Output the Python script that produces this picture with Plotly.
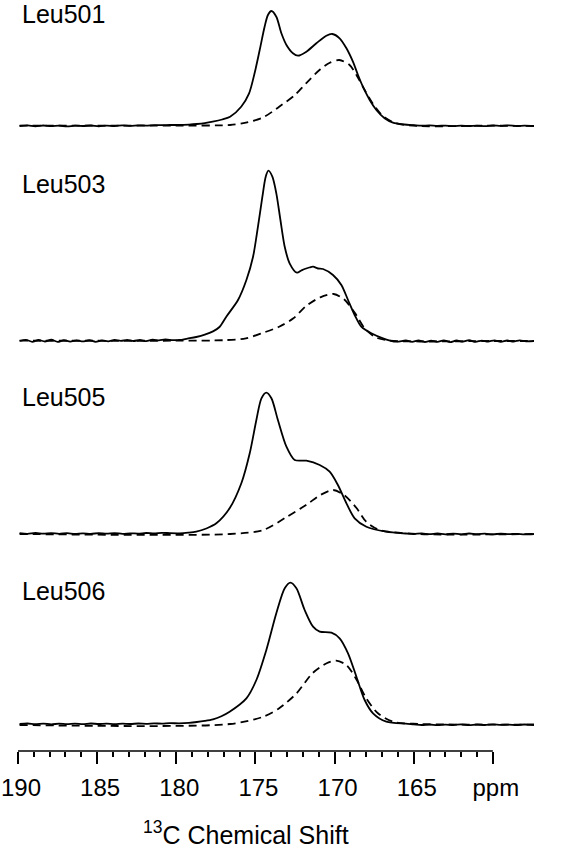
import plotly.graph_objects as go

# ---------------- data (intensity in arbitrary units) -------------
labels = ["Leu501", "Leu503", "Leu505", "Leu506"]
offsets = [625, 410, 217, 27]          # vertical stacking offsets
label_pos = [737, 567, 354, 160]       # label heights (same units)

left_ppm_a = [189.9, 189.4, 188.9, 188.4, 187.9, 187.4, 186.9, 186.4, 185.9, 185.4, 184.9,
              184.4, 183.9, 183.4, 182.9, 182.4, 181.9, 181.4, 180.9, 180.4, 179.8]
left_ppm_b = [189.9, 189.5, 189.1, 188.7, 188.3, 187.9, 187.5, 187.1, 186.7, 186.3, 185.9,
              185.5, 185.1, 184.7, 184.3, 183.9, 183.5, 183.1, 182.7, 182.3, 181.9, 181.5,
              181.1, 180.7, 180.2, 179.8]

# Leu501 experimental
leu501_ppm = left_ppm_a + [179.2, 178.7, 178.2, 177.7, 177.1, 176.6, 175.9, 175.4, 175.05,
                           174.73, 174.42, 174.21, 173.99, 173.68, 173.36, 173.04, 172.63,
                           172.31, 171.78, 171.15, 170.52, 170.14, 169.68, 169.25, 168.84,
                           168.52, 168.21, 167.78, 167.36, 166.84, 166.31, 165.6, 165.0,
                           164.5, 164.0, 163.5, 163.0, 162.5, 162.0, 161.5, 161.0, 160.5,
                           160.0, 159.5, 159.0, 158.5, 158.0, 157.4]
leu501_exp = [0, 0.6, -0.3, 0.5, -0.2, 0.4, -0.4, 0.3, 0, 0.5, -0.3, 0.4, 0, 0.6, 0.1, 0.7,
              0.4, 0.9, 0.8, 1.0, 1.0,
              1.4, 2.0, 2.9, 4.3, 6.5, 9.3, 19.3, 32.7, 53, 76, 99.3, 111, 115, 109.3, 92.7,
              81, 72.7, 70.3, 74.3, 82.7, 90.3, 92, 87.7, 77.7, 64.3, 51, 39.3, 26, 16, 7.7,
              3.3, 1.5, 0.8, 0.3, 0.6, 0.1, 0.4, -0.2, 0.3, 0, 0.4, -0.1, 0.5, 0.1, 0.6, 0,
              0.3, 0]
leu501_fit_ppm = [189.9, 185.0, 180.0, 176.6, 175.6, 174.5, 173.5, 172.5, 171.8, 170.9, 170.3,
                  169.7, 169.05, 168.5, 168.1, 167.6, 166.9, 166.1, 164.6, 160.0, 157.4]
leu501_fit = [0.3, 0.3, 0.5, 1.0, 3.3, 8.7, 19.3, 31, 42.7, 56.7, 63.3, 66, 61, 47.7, 36,
              22.7, 9.3, 2.7, 0, 0.3, 0]

# Leu503 experimental
leu503_ppm = left_ppm_b + [179.3, 178.74, 178.2, 177.68, 177.27, 176.84, 176.10, 175.57,
                           175.15, 174.84, 174.56, 174.35, 174.18, 173.93, 173.68, 173.42,
                           173.15, 172.84, 172.38, 172.1, 171.89, 171.6, 171.36, 171.05,
                           170.73, 170.10, 169.57, 169.15, 168.73, 168.31, 167.68, 166.94,
                           166.10,
                           165.5, 165.1, 164.7, 164.3, 163.9, 163.5, 163.1, 162.7, 162.3,
                           161.9, 161.5, 161.1, 160.7, 160.3, 159.9, 159.5, 159.1, 158.7,
                           158.3, 157.9, 157.4]
leu503_exp = [0, 1.2, -0.8, 1.0, -0.5, 1.3, -0.9, 0.8, -0.6, 0.7, -0.4, 0.9, -0.8, 0.6, -0.3,
              1.1, 0.2, 1.2, 0.0, 1.0, -0.2, 1.3, 0.6, 1.5, 0.8, 1.0,
              2.4, 4.0, 6.3, 9.6, 14.0, 24.3, 41, 61, 84.3, 114.3, 144.3, 164.3, 170.3, 164.3,
              147.7, 121, 94.3, 77.7, 68.3, 70.5, 72, 73.5, 74.3, 72.5, 72, 66, 56, 41, 26,
              14.3, 7.7, 2.7, -0.7,
              0.5, -0.9, 0.6, -1.0, 0.4, -0.8, 0.7, -1.1, 0.5, -0.7, 0.8, -0.9, 0.4, -0.6,
              0.7, -0.8, 0.5, -0.5, 0.6, -0.4, 0]
leu503_fit_ppm = [189.9, 180.0, 177.0, 175.6, 174.5, 173.5, 172.6, 171.8, 170.9, 170.06,
                  169.4, 168.7, 168.1, 167.4, 166.5, 164.6, 160.0, 157.4]
leu503_fit = [0.3, 0.3, 0.8, 2.7, 8.3, 14.3, 22.7, 35, 43.7, 47, 41.7, 27.7, 12.7, 3.7, 0.3,
              -0.5, 0, 0]

right_ppm = [165.0, 164.5, 164.0, 163.5, 163.0, 162.5, 162.0, 161.5, 161.0, 160.5, 160.0,
             159.5, 159.0, 158.5, 158.0, 157.4]

# Leu505 experimental
leu505_ppm = left_ppm_a + [179.25, 178.74, 178.1, 177.47, 176.63, 175.89, 175.36, 174.94,
                           174.62, 174.31, 173.99, 173.58, 173.04, 172.52, 171.78, 170.94,
                           170.31, 169.79, 169.25, 168.73, 167.99, 166.73, 165.5] + right_ppm
leu505_exp = [0.8, 0.2, 1.0, 0.3, 0.9, 0.2, 0.8, 0.1, 0.7, 0.2, 0.8, 0.3, 0.9, 0.2, 0.7, 0.4,
              1.0, 0.6, 1.2, 0.8, 0.7,
              1.3, 2.3, 5.5, 10.7, 25.7, 50.7, 80.7, 114, 135.7, 141.3, 135.7, 114, 87.3, 74,
              73.3, 69, 62.3, 49, 30.7, 15.7, 7.3, 2.3, 0.5,
              0, 0.6, -0.2, 0.5, -0.4, 0.4, -0.3, 0.5, -0.2, 0.3, -0.4, 0.4, -0.2, 0.2, -0.3, 0]
leu505_fit_ppm = [189.9, 176.6, 174.5, 173.0, 171.8, 170.9, 170.1, 169.4, 168.6, 168.0,
                  167.15, 164.6, 157.4]
leu505_fit = [0, 0, 4, 17.3, 29, 39, 44, 39, 25.7, 12.3, 4, 0, 0]

# Leu506 experimental
leu506_ppm = left_ppm_a + [179.2, 178.7, 178.2, 177.68, 177.15, 176.63, 175.57, 174.94,
                           174.31, 173.68, 173.15, 172.79, 172.41, 171.89, 171.36, 170.94,
                           170.20, 169.68, 169.15, 168.62, 168.10, 167.57, 166.73,
                           165.5] + right_ppm
leu506_exp = [0, 0.5, -0.2, 0.4, -0.3, 0.3, -0.2, 0.4, -0.1, 0.5, 0, 0.4, -0.2, 0.3, 0, 0.5,
              0.2, 0.6, 0.4, 0.8, 0.7,
              1.2, 2.0, 3.1, 4.7, 7.8, 12.3, 25.7, 44, 74, 110.7, 135.7, 141.3, 135.7, 114,
              97.3, 92.3, 91.3, 85.7, 70.7, 47.3, 24, 10.7, 2.3, 0.3,
              -0.3, -1.0, -0.5, -1.2, -0.6, -1.0, -0.4, -1.1, -0.5, -1.0, -0.3, -0.9, -0.6,
              -1.0, -0.5, -1.0]
leu506_fit_ppm = [189.9, 176.6, 174.5, 173.5, 172.4, 171.4, 170.5, 169.9, 169.25, 168.6,
                  168.0, 167.26, 166.3, 164.6, 157.4]
leu506_fit = [-1, 0, 7.3, 15.7, 30.7, 50.7, 60.7, 63.3, 59, 44, 25.7, 10.7, 2.3, 0, -0.5]

major_ticks = [190, 185, 180, 175, 170, 165, 160]
major_text = ["190", "185", "180", "175", "170", "165", "ppm"]
minor_ticks = [v for v in range(161, 190) if v % 5 != 0]

# ---------------- figure -------------
spectra = [
    (leu501_ppm, leu501_exp, leu501_fit_ppm, leu501_fit),
    (leu503_ppm, leu503_exp, leu503_fit_ppm, leu503_fit),
    (leu505_ppm, leu505_exp, leu505_fit_ppm, leu505_fit),
    (leu506_ppm, leu506_exp, leu506_fit_ppm, leu506_fit),
]

FONT = "Liberation Sans, Arial, sans-serif"
fig = go.Figure()
for (px, py, fx, fy), off in zip(spectra, offsets):
    fig.add_trace(go.Scatter(x=fx, y=[v + off for v in fy], mode="lines",
                             line=dict(color="black", width=1.8, dash="8px,5px",
                                       shape="spline", smoothing=0.8),
                             hoverinfo="skip", showlegend=False))
    fig.add_trace(go.Scatter(x=px, y=[v + off for v in py], mode="lines",
                             line=dict(color="black", width=1.8, shape="spline",
                                       smoothing=0.8),
                             hoverinfo="skip", showlegend=False))

for lab, ly in zip(labels, label_pos):
    fig.add_annotation(text=lab, x=189.9, y=ly, xref="x", yref="y", xanchor="left",
                       yanchor="middle", showarrow=False,
                       font=dict(family=FONT, size=25, color="black"))

fig.add_annotation(text="<sup>13</sup>C Chemical Shift", x=175.6, y=-0.109, xref="x",
                   yref="paper", xanchor="center", yanchor="middle", showarrow=False,
                   font=dict(family=FONT, size=25, color="black"))

fig.add_shape(type="line", x0=190, x1=160, y0=0, y1=0, xref="x", yref="paper",
              line=dict(color="black", width=1.5))

fig.update_layout(
    width=562, height=852,
    margin=dict(l=18, r=28, t=0, b=101, autoexpand=False),
    paper_bgcolor="white", plot_bgcolor="white",
    xaxis=dict(range=[190, 157.4], showline=False, showgrid=False, zeroline=False,
               automargin=False, ticklabeloverflow="allow", ticklabelstandoff=3,
               ticklabelshift=-3,
               tickmode="array", tickvals=major_ticks, ticktext=major_text,
               ticks="outside", ticklen=12, tickwidth=1.5, tickcolor="black",
               tickfont=dict(family=FONT, size=24, color="black"),
               minor=dict(tickmode="array", tickvals=minor_ticks, ticks="outside",
                          ticklen=5, tickwidth=1.5, tickcolor="black", showgrid=False)),
    yaxis=dict(range=[0, 751], visible=False),
)

fig.write_html("out.html", config={"displayModeBar": False},
               post_script="document.body.style.margin='0';")
